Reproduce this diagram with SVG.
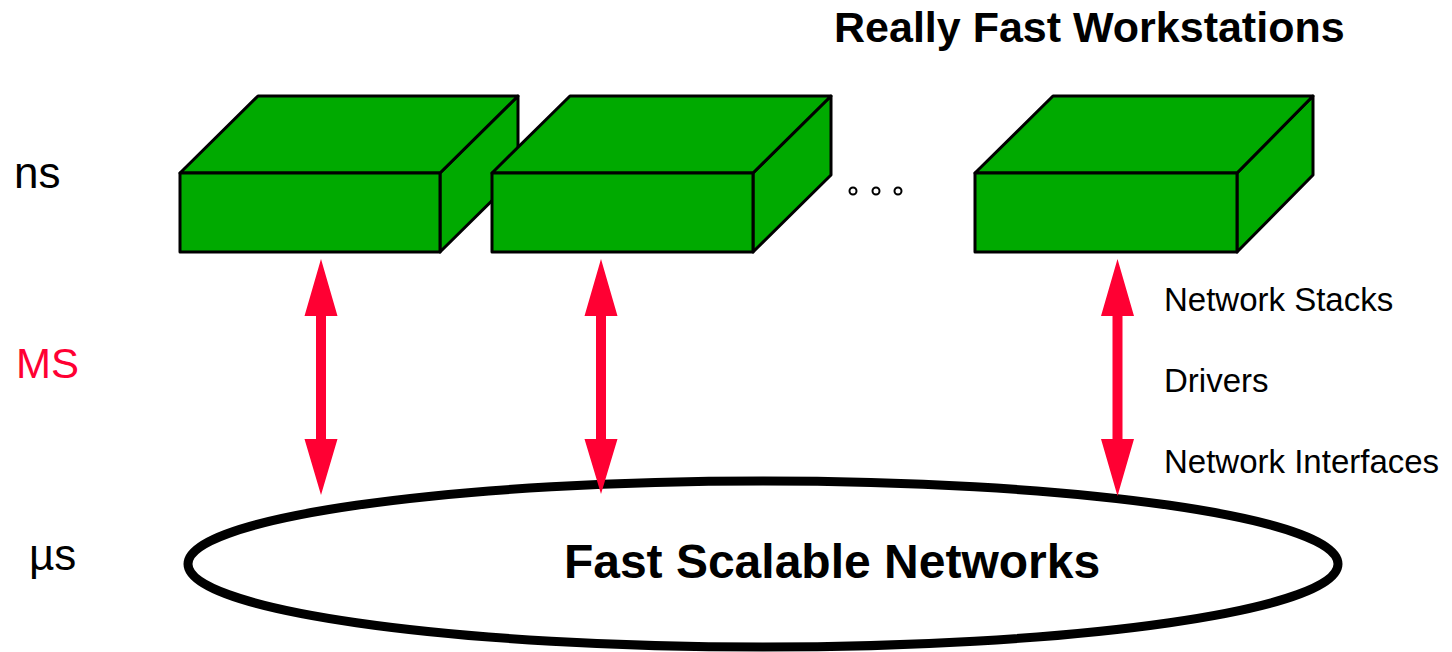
<svg xmlns="http://www.w3.org/2000/svg" width="1452" height="652" viewBox="0 0 1452 652">
<style>
.box{fill:#00aa00;stroke:#000;stroke-width:3;stroke-linejoin:round}
.arr{fill:#ff0033;stroke:none}
.t{font-family:"Liberation Sans",Arial,sans-serif;fill:#000}
.b{font-weight:bold}
.dot{fill:#fff;stroke:#000;stroke-width:2}
</style>
<rect width="1452" height="652" fill="#fff"/>
<text class="t b" x="834" y="42" font-size="43">Really Fast Workstations</text>
<text class="t" x="14" y="188" font-size="44">ns</text>
<text class="t" x="16" y="378" font-size="42" fill="#ff0033" style="fill:#ff0033">MS</text>
<text class="t" x="29" y="570" font-size="44">µs</text>
<g id="box1">
<polygon class="box" points="440,173 518,96 518,175 440,252"/>
<polygon class="box" points="180,173 258,96 518,96 440,173"/>
<rect class="box" x="180" y="173" width="260" height="79"/>
</g>
<g id="box2">
<polygon class="box" points="753,173 831,96 831,175 753,252"/>
<polygon class="box" points="492,173 570,96 831,96 753,173"/>
<rect class="box" x="492" y="173" width="261" height="79"/>
</g>
<g id="dots">
<circle class="dot" cx="853" cy="191" r="3.5"/>
<circle class="dot" cx="876" cy="191" r="3.5"/>
<circle class="dot" cx="898" cy="191" r="3.5"/>
</g>
<g id="box3">
<polygon class="box" points="1237,173 1313,96 1313,175 1237,252"/>
<polygon class="box" points="975,173 1053,96 1313,96 1237,173"/>
<rect class="box" x="975" y="173" width="262" height="79"/>
</g>
<g id="network">
<ellipse cx="763" cy="564" rx="575" ry="83" fill="#fff" stroke="#000" stroke-width="9"/>
<text class="t b" x="832" y="578" font-size="48" text-anchor="middle">Fast Scalable Networks</text>
</g>
<g id="connectors">
<polygon class="arr" points="321,259 337.5,316 326,316 326,439 337.5,439 321,495 304.5,439 316,439 316,316 304.5,316"/>
<polygon class="arr" points="601,259 617.5,316 606,316 606,439 617.5,439 601,494 584.5,439 596,439 596,316 584.5,316"/>
<polygon class="arr" points="1117.5,259 1134,316 1122.5,316 1122.5,439 1134,439 1117.5,496 1101,439 1112.5,439 1112.5,316 1101,316"/>
</g>
<g id="labels">
<text class="t" x="1164" y="311" font-size="33">Network Stacks</text>
<text class="t" x="1164" y="392" font-size="33">Drivers</text>
<text class="t" x="1164" y="473" font-size="33">Network Interfaces</text>
</g>
</svg>
